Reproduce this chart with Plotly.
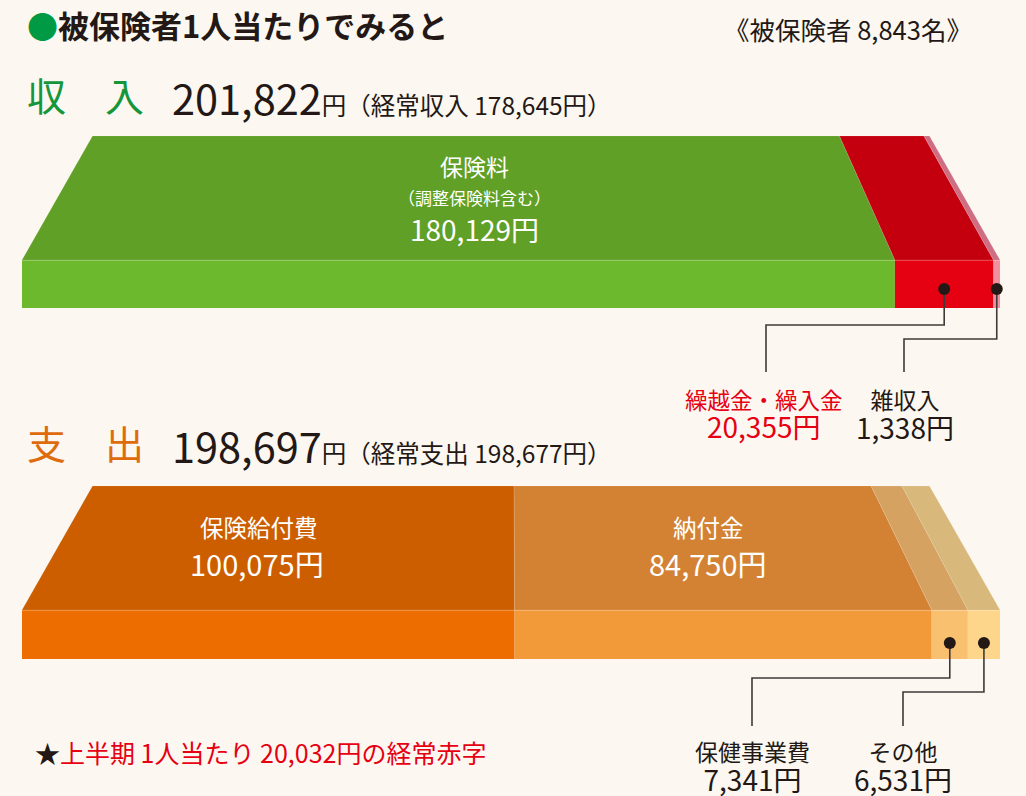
import plotly.graph_objects as go

# ---------------- data ----------------
income_labels = ["保険料", "繰越金・繰入金", "雑収入"]
income_values = [180129, 20355, 1338]
income_total = 201822
income_ordinary = 178645

expense_labels = ["保険給付費", "納付金", "保健事業費", "その他"]
expense_values = [100075, 84750, 7341, 6531]
expense_total = 198697
expense_ordinary = 198677

insured_count = 8843
half_year_deficit = 20032

# ---------------- styles ----------------
income_top_colors = ["#60A026", "#C4000F", "#CF6E82"]
income_front_colors = ["#6DB92E", "#E50012", "#F2909F"]
expense_top_colors = ["#CC5E00", "#D38233", "#D6A262", "#D8B97B"]
expense_front_colors = ["#EE6D00", "#F2993A", "#F9C070", "#FDD68B"]

W, H = 1026, 796
BG = "#FCF8F1"
DARK = "#231815"
RED = "#E60012"
FONT = "Noto Sans CJK JP"
X0, XW = 22, 978          # pixel position / width of the front face
PERSP = 837 / 978         # width ratio of the far edge of the top face

fig = go.Figure()


def persp(f):
    return 0.5 + (f - 0.5) * PERSP


def add_block(values, total, y_top, y_mid, y_bot, tops, fronts):
    cum = 0
    centers = []
    for v, ct, cf in zip(values, tops, fronts):
        f0 = cum / total
        f1 = (cum + v) / total
        cum += v
        centers.append((f0 + f1) / 2)
        # top (receding) face
        fig.add_trace(go.Scatter(
            x=[f0, f1, persp(f1), persp(f0), f0],
            y=[y_mid, y_mid, y_top, y_top, y_mid],
            fill="toself", fillcolor=ct, mode="lines",
            line=dict(width=0.6, color="rgba(255,255,255,0.18)"),
            hoverinfo="skip", showlegend=False))
        # front face
        fig.add_trace(go.Bar(
            y=[(y_mid + y_bot) / 2], x=[f1 - f0], base=[f0],
            width=y_bot - y_mid, orientation="h",
            marker=dict(color=cf, line=dict(width=0)),
            hoverinfo="skip", showlegend=False))
        # subtle highlight at the fold
        fig.add_trace(go.Scatter(
            x=[f0, f1], y=[y_mid + 0.5, y_mid + 0.5], mode="lines",
            line=dict(width=1, color="rgba(255,255,255,0.22)"),
            hoverinfo="skip", showlegend=False))
    return centers


inc_centers = add_block(income_values, income_total, 136, 260, 308,
                        income_top_colors, income_front_colors)
exp_centers = add_block(expense_values, expense_total, 486, 610, 659,
                        expense_top_colors, expense_front_colors)


def fx(px):
    return (px - X0) / XW


def leader(fc, dot_y, elbow_y, label_px, end_y):
    fig.add_trace(go.Scatter(
        x=[fc, fc, fx(label_px), fx(label_px)],
        y=[dot_y, elbow_y, elbow_y, end_y], mode="lines",
        line=dict(width=1.6, color="#3E3A39"),
        hoverinfo="skip", showlegend=False))
    fig.add_trace(go.Scatter(
        x=[fc], y=[dot_y], mode="markers",
        marker=dict(size=12, color=DARK),
        hoverinfo="skip", showlegend=False))


leader(inc_centers[1], 289, 325, 766, 372)
leader(inc_centers[2], 289, 339, 904, 372)
leader(exp_centers[2], 643, 678, 752, 726)
leader(exp_centers[3], 643, 692, 903, 726)

ann = []


def text(px, py, s, size, color=DARK, anchor="center", weight=None):
    f = dict(family=FONT, size=size, color=color)
    if weight:
        f["weight"] = weight
    ann.append(dict(x=px / W, y=1 - py / H, xref="paper", yref="paper",
                    text=s, showarrow=False, xanchor=anchor, yanchor="middle",
                    align="center", borderpad=0, font=f))


def yen(v):
    return f"{v:,}円"


def callout(px, py, label, value, size, num_size, color=DARK):
    text(px, py, f"{label}<br><span style='font-size:{num_size}px'>{yen(value)}</span>",
         size, color=color)


# header
text(26, 25, "<span style='color:#009A44'>●</span>被保険者1人当たりでみると", 31,
     anchor="left", weight="bold")
text(973, 28, f"《被保険者 {insured_count:,}名》", 25.5, anchor="right")

text(26, 94, "収　入", 39, color="#16963A", anchor="left")
text(171, 97,
     f"{income_total:,}<span style='font-size:24.5px'>円（経常収入 {income_ordinary:,}円）</span>",
     41.5, anchor="left")
text(26, 442, "支　出", 39, color="#DF6C0C", anchor="left")
text(171, 445,
     f"{expense_total:,}<span style='font-size:24.5px'>円（経常支出 {expense_ordinary:,}円）</span>",
     41.5, anchor="left")

# labels inside the blocks
text(474, 166, income_labels[0], 23, color="white")
text(474, 197, "（調整保険料含む）", 17, color="white")
text(474, 229, yen(income_values[0]), 28, color="white")

text(259, 527, expense_labels[0], 23.5, color="white")
text(257, 563, yen(expense_values[0]), 29, color="white")
text(708, 527, expense_labels[1], 23.5, color="white")
text(708, 563, yen(expense_values[1]), 29, color="white")

# callout labels
callout(764, 414, income_labels[1], income_values[1], 22.5, 28, color=RED)
callout(905, 414, income_labels[2], income_values[2], 23, 28)
callout(752, 766, expense_labels[2], expense_values[2], 23, 28)
callout(903, 766, expense_labels[3], expense_values[3], 23, 28)

# footer
text(34, 752,
     f"★<span style='color:{RED}'>上半期 1人当たり {half_year_deficit:,}円の経常赤字</span>",
     25, anchor="left")

fig.update_layout(
    width=W, height=H, margin=dict(l=0, r=0, t=0, b=0),
    paper_bgcolor=BG, plot_bgcolor=BG, barmode="overlay",
    annotations=ann,
    xaxis=dict(range=[fx(0), fx(W)], visible=False, fixedrange=True),
    yaxis=dict(range=[H, 0], visible=False, fixedrange=True),
    font=dict(family=FONT),
)

fig.write_html(
    "out.html",
    config={"displayModeBar": False},
    post_script="document.body.style.margin='0';document.body.style.background='" + BG + "';",
)
